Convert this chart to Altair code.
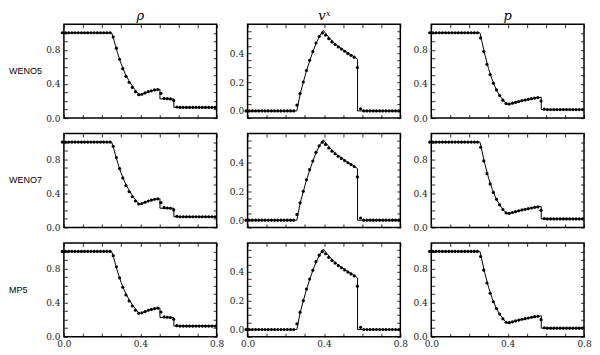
import altair as alt
import pandas as pd

# ---------------- data ----------------
# numerical solution: cell centres
X_NUM = [-0.0083, 0.0083, 0.025, 0.0417, 0.0583, 0.075, 0.0917, 0.1083, 0.125, 0.1417,
         0.1583, 0.175, 0.1917, 0.2083, 0.225, 0.2417, 0.2583, 0.275, 0.2917, 0.3083,
         0.325, 0.3417, 0.3583, 0.375, 0.3917, 0.4083, 0.425, 0.4417, 0.4583, 0.475,
         0.4917, 0.5083, 0.525, 0.5417, 0.5583, 0.575, 0.5917, 0.6083, 0.625, 0.6417,
         0.6583, 0.675, 0.6917, 0.7083, 0.725, 0.7417, 0.7583, 0.775, 0.7917]

RHO_NUM = [1.0, 1.0, 1.0, 1.0, 1.0, 1.0, 1.0, 1.0, 1.0, 1.0,
           1.0, 1.0, 1.0, 1.0, 1.0, 1.0, 0.95, 0.82, 0.69, 0.58,
           0.49, 0.42, 0.36, 0.31, 0.275, 0.28, 0.295, 0.31, 0.32, 0.33,
           0.335, 0.29, 0.232, 0.228, 0.225, 0.205, 0.13, 0.125, 0.125, 0.125,
           0.125, 0.125, 0.125, 0.125, 0.125, 0.125, 0.125, 0.125, 0.125]

VX_NUM = [0.0, 0.0, 0.0, 0.0, 0.0, 0.0, 0.0, 0.0, 0.0, 0.0,
          0.0, 0.0, 0.0, 0.0, 0.0, 0.0, 0.04, 0.12, 0.20, 0.28,
          0.35, 0.41, 0.47, 0.515, 0.54, 0.525, 0.50, 0.478, 0.46, 0.443,
          0.428, 0.413, 0.398, 0.385, 0.372, 0.30, 0.015, 0.0, 0.0, 0.0,
          0.0, 0.0, 0.0, 0.0, 0.0, 0.0, 0.0, 0.0, 0.0]

P_NUM = [1.0, 1.0, 1.0, 1.0, 1.0, 1.0, 1.0, 1.0, 1.0, 1.0,
         1.0, 1.0, 1.0, 1.0, 1.0, 1.0, 0.94, 0.78, 0.63, 0.51,
         0.41, 0.33, 0.265, 0.21, 0.17, 0.165, 0.175, 0.185, 0.195, 0.205,
         0.212, 0.22, 0.228, 0.235, 0.24, 0.20, 0.105, 0.1, 0.1, 0.1,
         0.1, 0.1, 0.1, 0.1, 0.1, 0.1, 0.1, 0.1, 0.1]

# reference (exact) solution, breakpoints
RHO_EX_X = [0.0, 0.25, 0.26, 0.27, 0.28, 0.29, 0.30, 0.32, 0.34, 0.36, 0.38, 0.397,
            0.42, 0.45, 0.48, 0.50, 0.503, 0.503, 0.576, 0.576, 0.8]
RHO_EX = [1.0, 1.0, 0.93, 0.85, 0.77, 0.70, 0.635, 0.525, 0.44, 0.37, 0.31, 0.268,
          0.29, 0.315, 0.33, 0.337, 0.338, 0.225, 0.225, 0.125, 0.125]

VX_EX_X = [0.0, 0.258, 0.275, 0.292, 0.308, 0.325, 0.342, 0.358, 0.375, 0.39, 0.397,
           0.41, 0.43, 0.45, 0.47, 0.49, 0.51, 0.53, 0.55, 0.576, 0.576, 0.8]
VX_EX = [0.0, 0.0, 0.115, 0.2, 0.275, 0.345, 0.41, 0.465, 0.512, 0.545, 0.557,
         0.535, 0.503, 0.474, 0.452, 0.433, 0.415, 0.398, 0.382, 0.357, 0.0, 0.0]

P_EX_X = [0.0, 0.255, 0.265, 0.28, 0.30, 0.32, 0.34, 0.36, 0.38, 0.397, 0.42, 0.45,
          0.48, 0.51, 0.54, 0.576, 0.576, 0.8]
P_EX = [1.0, 1.0, 0.90, 0.75, 0.58, 0.445, 0.335, 0.258, 0.20, 0.16, 0.17, 0.188,
        0.205, 0.22, 0.233, 0.245, 0.1, 0.1]

METHODS = ["WENO5", "WENO7", "MP5"]
QUANTS = ["rho", "vx", "p"]
NUMERIC = {"rho": RHO_NUM, "vx": VX_NUM, "p": P_NUM}
EXACT = {"rho": (RHO_EX_X, RHO_EX), "vx": (VX_EX_X, VX_EX), "p": (P_EX_X, P_EX)}
YDOM = {"rho": [0.0, 1.1], "vx": [-0.05, 0.6], "p": [0.0, 1.1]}

X_TICKS = [0.0, 0.1, 0.2, 0.3, 0.4, 0.5, 0.6, 0.7, 0.8]
X_LABELS = [0.0, 0.4, 0.8]
Y_TICKS = {
    "rho": [0.0, 0.1, 0.2, 0.3, 0.4, 0.5, 0.6, 0.7, 0.8, 0.9, 1.0],
    "vx": [-0.05, 0.0, 0.05, 0.1, 0.15, 0.2, 0.25, 0.3, 0.35, 0.4, 0.45, 0.5, 0.55],
    "p": [0.0, 0.1, 0.2, 0.3, 0.4, 0.5, 0.6, 0.7, 0.8, 0.9, 1.0],
}
Y_LABELS = {"rho": [0.0, 0.4, 0.8], "vx": [0.0, 0.2, 0.4], "p": [0.0, 0.4, 0.8]}

# ---------------- layout / style ----------------
W, H = 153, 94
SERIF = "DejaVu Serif"
SANS = "Liberation Sans"
TICK = 3.5


def label_expr(vals):
    arr = ",".join(str(v) for v in vals)
    return f"indexof([{arr}], datum.value) >= 0 ? format(datum.value, '.1f') : ''"


def axis(orient, values, labels, lab_vals=None):
    kw = dict(orient=orient, values=values, labels=labels, offset=-TICK, tickSize=TICK,
              domain=False, grid=False, title=None, tickColor="black", tickWidth=0.8,
              labelFont=SERIF, labelFontSize=9, labelColor="#222222",
              labelOverlap=False, labelFlush=False)
    if lab_vals is not None:
        kw["labelExpr"] = label_expr(lab_vals)
    if orient == "bottom":
        kw["labelPadding"] = 2.5
    if orient == "left":
        kw["labelPadding"] = 4
    return alt.Axis(**kw)


one = pd.DataFrame({"a": [0]})


def panel(r, c):
    q = QUANTS[c]
    xs = alt.Scale(domain=[0.0, 0.8], nice=False, zero=False)
    ys = alt.Scale(domain=YDOM[q], nice=False, zero=False)
    ex_x, ex_y = EXACT[q]
    dline = pd.DataFrame({"x": ex_x, "y": ex_y, "i": list(range(len(ex_x)))})
    dpts = pd.DataFrame({"x": X_NUM, "y": NUMERIC[q]})

    line = alt.Chart(dline).mark_line(color="black", strokeWidth=1, clip=True).encode(
        x=alt.X("x:Q", scale=xs, axis=axis("bottom", X_TICKS, r == 2, X_LABELS)),
        y=alt.Y("y:Q", scale=ys, axis=axis("left", Y_TICKS[q], True, Y_LABELS[q])),
        order="i:Q",
    )
    pts = alt.Chart(dpts).mark_circle(color="black", size=10, opacity=1, clip=False).encode(
        x=alt.X("x:Q", scale=xs, axis=axis("top", X_TICKS, False)),
        y=alt.Y("y:Q", scale=ys, axis=axis("right", Y_TICKS[q], False)),
    )
    layers = [line, pts]
    if r == 0:
        if q == "vx":
            layers.append(alt.Chart(one).mark_text(
                text="v", font=SERIF, fontStyle="italic", fontSize=13, align="center",
                baseline="alphabetic", color="black").encode(
                x=alt.value(W / 2 - 2), y=alt.value(-4)))
            layers.append(alt.Chart(one).mark_text(
                text="x", font=SERIF, fontStyle="italic", fontSize=8, align="left",
                baseline="alphabetic", color="black").encode(
                x=alt.value(W / 2 + 2), y=alt.value(-8.5)))
        else:
            layers.append(alt.Chart(one).mark_text(
                text="ρ" if q == "rho" else "p", font=SERIF, fontStyle="italic",
                fontSize=13, align="center", baseline="alphabetic", color="black").encode(
                x=alt.value(W / 2), y=alt.value(-4)))
    if c == 0:
        layers.append(alt.Chart(one).mark_text(
            text=METHODS[r], font=SANS, fontSize=9, align="left", baseline="middle",
            color="black").encode(x=alt.value(-55), y=alt.value(H / 2)))
    return alt.layer(*layers).resolve_axis(x="independent", y="independent").properties(
        width=W, height=H)


panels = [panel(r, c) for r in range(3) for c in range(3)]

chart = alt.concat(*panels, columns=3,
                   spacing=alt.RowColnumber(row=15.5, column=31),
                   bounds="flush").properties(padding=0).configure_view(
    stroke="black", strokeWidth=1.5)

chart.save("out.html", embed_options={"renderer": "svg", "actions": False})
